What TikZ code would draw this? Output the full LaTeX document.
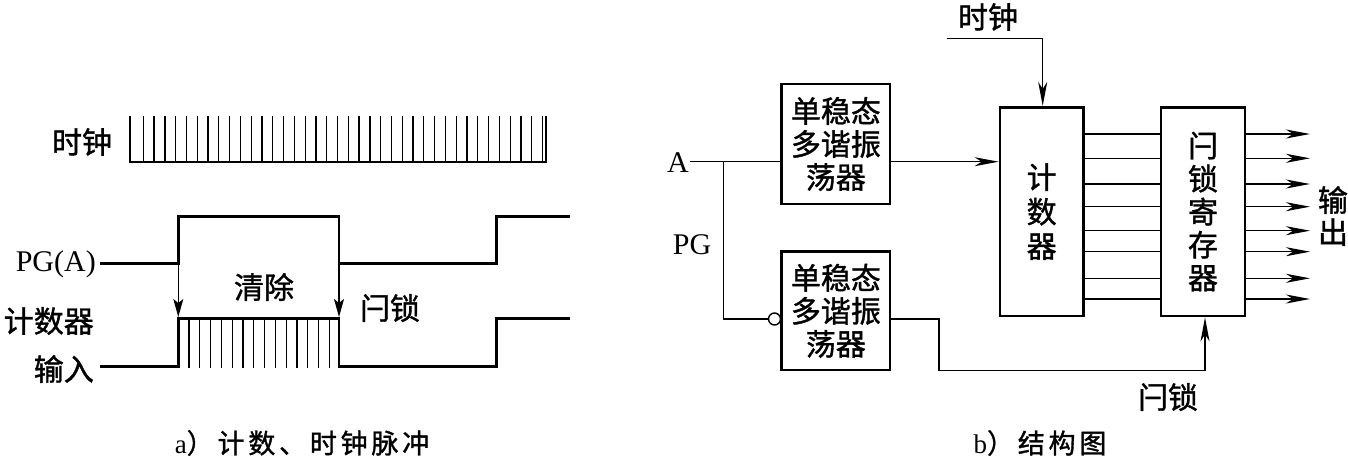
\documentclass[tikz,border=0pt]{standalone}
\usepackage{fontspec}
\setmainfont{Liberation Serif}
\newfontfamily\cjk[FakeBold=1.2]{Noto Sans CJK SC}
\newfontfamily\cjkcap[LetterSpace=14,FakeBold=1.2]{Noto Sans CJK SC}
\usetikzlibrary{arrows.meta,calc}
\begin{document}
\begin{tikzpicture}[x=1pt,y=-1pt,
  wave/.style={line width=2.6pt},
  sig/.style={line width=1.4pt},
  tickln/.style={line width=1.3pt},
  arr/.style={sig,-{Stealth[length=24pt,width=9pt,inset=7pt]}},
  darr/.style={sig,-{Stealth[length=18pt,width=10pt,inset=4pt]}},
  blk/.style={draw,line width=2.8pt,inner sep=0pt,align=center,
    font=\cjk\fontsize{30}{33}\selectfont},
  lbl/.style={inner sep=0pt,font=\cjk\fontsize{30}{33}\selectfont},
  lat/.style={inner sep=0pt,font=\fontsize{30}{33}\selectfont},
  captxt/.style={inner sep=0pt,font=\fontsize{27}{29}\selectfont},
]
\useasboundingbox (0,0) rectangle (1348,460);

% ---------- a) timing diagram ----------
\node[lbl] (tclk) at (82,142) {时钟};
\draw[wave] (130,116) -- (130,162) -- (546,162) -- (546,116);
\foreach \k in {0,...,37} \draw[tickln] (143.3+\k*10.79,116) -- ++(0,46);

\node[lat,anchor=east] (tpg) at (96,264) {PG(A)};
\node[lbl,anchor=east] (tcnt) at (94,321) {计数器};
\node[lbl,anchor=east] (tin) at (94,369) {输入};
\node[lbl] (tclr) at (264,287) {清除};
\node[lbl] (tlat) at (390,308) {闩锁};

\draw[wave] (100,263.3) -- (178.3,263.3) -- (178.3,216.7) -- (339,216.7)
  -- (339,263.3) -- (496.7,263.3) -- (496.7,216.7) -- (570,216.7);
\draw[wave] (100,366.7) -- (178.3,366.7) -- (178.3,318.3) -- (339,318.3)
  -- (339,366.7) -- (496.7,366.7) -- (496.7,318.3) -- (570,318.3);
\draw[darr] (178.3,263.3) -- (178.3,317);
\draw[darr] (339,263.3) -- (339,317);
\foreach \k in {0,...,13} \draw[tickln] (189+\k*10.8,318.3) -- (189+\k*10.8,368);

\node[captxt] (capa) at (302,443) {a{\cjkcap ）计数、时钟脉冲}};

% ---------- b) block diagram ----------
\node[blk,minimum width=108.3pt,minimum height=120pt] (mono1) at (835.85,144) {单稳态\\多谐振\\荡器};
\node[blk,minimum width=108.3pt,minimum height=118.3pt] (mono2) at (835.85,310.85) {单稳态\\多谐振\\荡器};
\node[blk,minimum width=83.3pt,minimum height=208.7pt,font=\cjk\fontsize{30}{34.5}\selectfont] (cnt) at (1041.65,211.65) {计\\数\\器};
\node[blk,minimum width=84pt,minimum height=208.7pt] (latch) at (1203,211.65) {闩\\锁\\寄\\存\\器};

\node[lat] (lA) at (678,163) {A};
\node[lat] (lPG) at (692,245) {PG};
\node[lbl] (lclk) at (988,17) {时钟};
\node[lbl,align=center,font=\cjk\fontsize{30}{32}\selectfont] (lout) at (1333,216) {输\\出};
\node[lbl] (llat) at (1168,397) {闩锁};

\coordinate (a0) at (690,161.7);
\coordinate (br) at (723.3,161.7);
\node[draw,circle,sig,minimum size=12pt,inner sep=0pt] (inv) at (774.5,319) {};
\draw[sig] (a0) -- (a0 -| mono1.west);
\draw[arr] (a0 -| mono1.east) -- (a0 -| cnt.west);
\draw[sig] (br) |- (inv.west);

\coordinate (l1) at (939,370.7);
\coordinate (l2) at (1205,370.7);
\draw[arr] (inv -| mono2.east) -| (l1) -- (l2) -- (l2 |- latch.south);

\coordinate (c0) at (946.7,38.3);
\coordinate (c1) at (1042.7,38.3);
\draw[arr] (c0) -- (c1) -- (c1 |- cnt.north);

\foreach \y in {134,158.3,184,206.7,230.7,251.7,278.3,299} {
  \draw[sig] (cnt.east |- 0,\y) -- (latch.west |- 0,\y);
  \draw[arr] (latch.east |- 0,\y) -- (1310,\y);
}

\node[captxt] (capb) at (1040,443) {b{\cjkcap ）结构图}};
\end{tikzpicture}
\end{document}
